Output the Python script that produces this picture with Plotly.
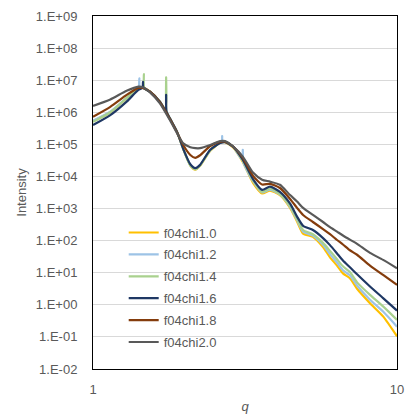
import plotly.graph_objects as go

# q values (shared grid)
q = [1.00, 1.14, 1.29, 1.41, 1.46, 1.54, 1.66, 1.79, 1.89, 1.98, 2.09, 2.17, 2.25,
     2.43, 2.62, 2.72, 2.89, 3.11, 3.36, 3.60, 3.82, 4.12, 4.45, 4.69, 4.91, 5.29,
     5.71, 6.02, 6.35, 6.64, 7.00, 7.39, 8.15, 9.00, 10.0]

# log10(Intensity)
log_chi10 = [5.72, 6.00, 6.44, 6.75, 6.76, 6.64, 6.33, 5.80, 5.38, 4.86, 4.34, 4.21, 4.33,
             4.80, 5.05, 5.07, 4.90, 4.45, 3.80, 3.47, 3.56, 3.42, 3.02, 2.60, 2.22, 2.12,
             1.80, 1.48, 1.22, 0.98, 0.83, 0.50, 0.05, -0.36, -0.98]
log_chi12 = [5.74, 6.02, 6.45, 6.76, 6.76, 6.64, 6.33, 5.81, 5.39, 4.87, 4.35, 4.23, 4.35,
             4.82, 5.06, 5.08, 4.92, 4.48, 3.85, 3.50, 3.59, 3.44, 3.05, 2.64, 2.28, 2.16,
             1.87, 1.58, 1.32, 1.08, 0.92, 0.60, 0.16, -0.21, -0.68]
log_chi14 = [5.70, 6.00, 6.44, 6.76, 6.76, 6.64, 6.33, 5.81, 5.39, 4.86, 4.34, 4.22, 4.34,
             4.82, 5.05, 5.08, 4.93, 4.50, 3.88, 3.52, 3.62, 3.46, 3.08, 2.68, 2.33, 2.20,
             1.93, 1.68, 1.42, 1.20, 1.02, 0.70, 0.31, -0.05, -0.47]
log_chi16 = [5.60, 5.91, 6.33, 6.70, 6.76, 6.64, 6.33, 5.81, 5.39, 4.86, 4.38, 4.26, 4.36,
             4.83, 5.04, 5.07, 4.93, 4.52, 3.92, 3.58, 3.68, 3.52, 3.15, 2.75, 2.46, 2.33,
             2.08, 1.86, 1.60, 1.38, 1.17, 0.95, 0.57, 0.21, -0.18]
log_chi18 = [5.86, 6.17, 6.54, 6.76, 6.76, 6.64, 6.31, 5.79, 5.37, 4.98, 4.67, 4.58, 4.66,
             4.95, 5.08, 5.08, 4.93, 4.58, 4.02, 3.75, 3.77, 3.64, 3.30, 3.02, 2.80, 2.58,
             2.36, 2.20, 2.02, 1.88, 1.70, 1.56, 1.22, 0.93, 0.62]
log_chi20 = [6.20, 6.40, 6.67, 6.80, 6.78, 6.62, 6.28, 5.76, 5.35, 5.03, 4.91, 4.88, 4.88,
             4.98, 5.10, 5.10, 4.93, 4.62, 4.12, 3.90, 3.84, 3.74, 3.42, 3.22, 3.02, 2.80,
             2.58, 2.42, 2.28, 2.16, 2.03, 1.90, 1.62, 1.40, 1.14]

# narrow spikes (q, log10 I)
spike_chi12 = [(1.415, 6.76), (1.42, 7.06), (1.425, 6.76), (2.655, 5.07), (2.66, 5.26), (2.665, 5.07),
               (3.105, 4.50), (3.11, 4.83), (3.115, 4.47)]
spike_chi14 = [(1.465, 6.76), (1.47, 7.19), (1.475, 6.75), (1.735, 6.05), (1.74, 7.09), (1.745, 6.02)]
spike_chi16 = [(1.455, 6.76), (1.46, 6.95), (1.465, 6.76), (1.735, 6.05), (1.74, 6.54), (1.745, 6.02)]

names = ["f04chi1.0", "f04chi1.2", "f04chi1.4", "f04chi1.6", "f04chi1.8", "f04chi2.0"]
colors = ["#FFC000", "#9DC3E6", "#A9D18E", "#1F3864", "#843C0C", "#595959"]
series = [log_chi10, log_chi12, log_chi14, log_chi16, log_chi18, log_chi20]
spikes = [[], spike_chi12, spike_chi14, spike_chi16, [], []]

ytick_vals = [1e-2, 1e-1, 1e0, 1e1, 1e2, 1e3, 1e4, 1e5, 1e6, 1e7, 1e8, 1e9]
ytick_text = ["1.E-02", "1.E-01", "1.E+00", "1.E+01", "1.E+02", "1.E+03", "1.E+04",
              "1.E+05", "1.E+06", "1.E+07", "1.E+08", "1.E+09"]

fig = go.Figure()
for name, color, vals, sp in zip(names, colors, series, spikes):
    pts = sorted([p for p in zip(q, vals) if all(abs(p[0] - s[0]) > 0.004 for s in sp)] + sp)
    xs = [p[0] for p in pts]
    ys = [10 ** p[1] for p in pts]
    fig.add_trace(go.Scatter(x=xs, y=ys, mode="lines", name=name, legendgroup=name,
                             line=dict(color=color, width=2.2, shape="spline", smoothing=0.6)))

font = "Liberation Sans, Arial, sans-serif"
fig.update_layout(
    width=408, height=414,
    margin=dict(l=93, r=11, t=16, b=45, autoexpand=False),
    paper_bgcolor="white", plot_bgcolor="white",
    font=dict(family=font, size=13, color="#595959"),
    showlegend=True,
    legend=dict(x=0.101, y=0.429, xanchor="left", yanchor="top", bgcolor="rgba(0,0,0,0)",
                font=dict(size=13, color="#595959"), tracegroupgap=2),
    xaxis=dict(type="log", range=[0, 1], tickvals=[1, 10], ticktext=["1", "10"],
               automargin=False,
               showgrid=False, showline=True, linecolor="#000000", linewidth=1, mirror=True,
               ticks="outside", ticklen=8, tickcolor="rgba(0,0,0,0)",
               title=dict(text="<i>q</i>", standoff=8, font=dict(size=13, color="#595959"))),
    yaxis=dict(type="log", range=[-2, 9], tickvals=ytick_vals, ticktext=ytick_text,
               automargin=False,
               showgrid=True, gridcolor="#D9D9D9", gridwidth=1,
               showline=True, linecolor="#000000", linewidth=1, mirror=True,
               ticks="outside", ticklen=12, tickcolor="rgba(0,0,0,0)",
               title=dict(text="Intensity", standoff=6, font=dict(size=13, color="#595959"))),
)
fig.write_html("out.html", config={"displayModeBar": False},
               post_script="document.body.style.margin='0';")
